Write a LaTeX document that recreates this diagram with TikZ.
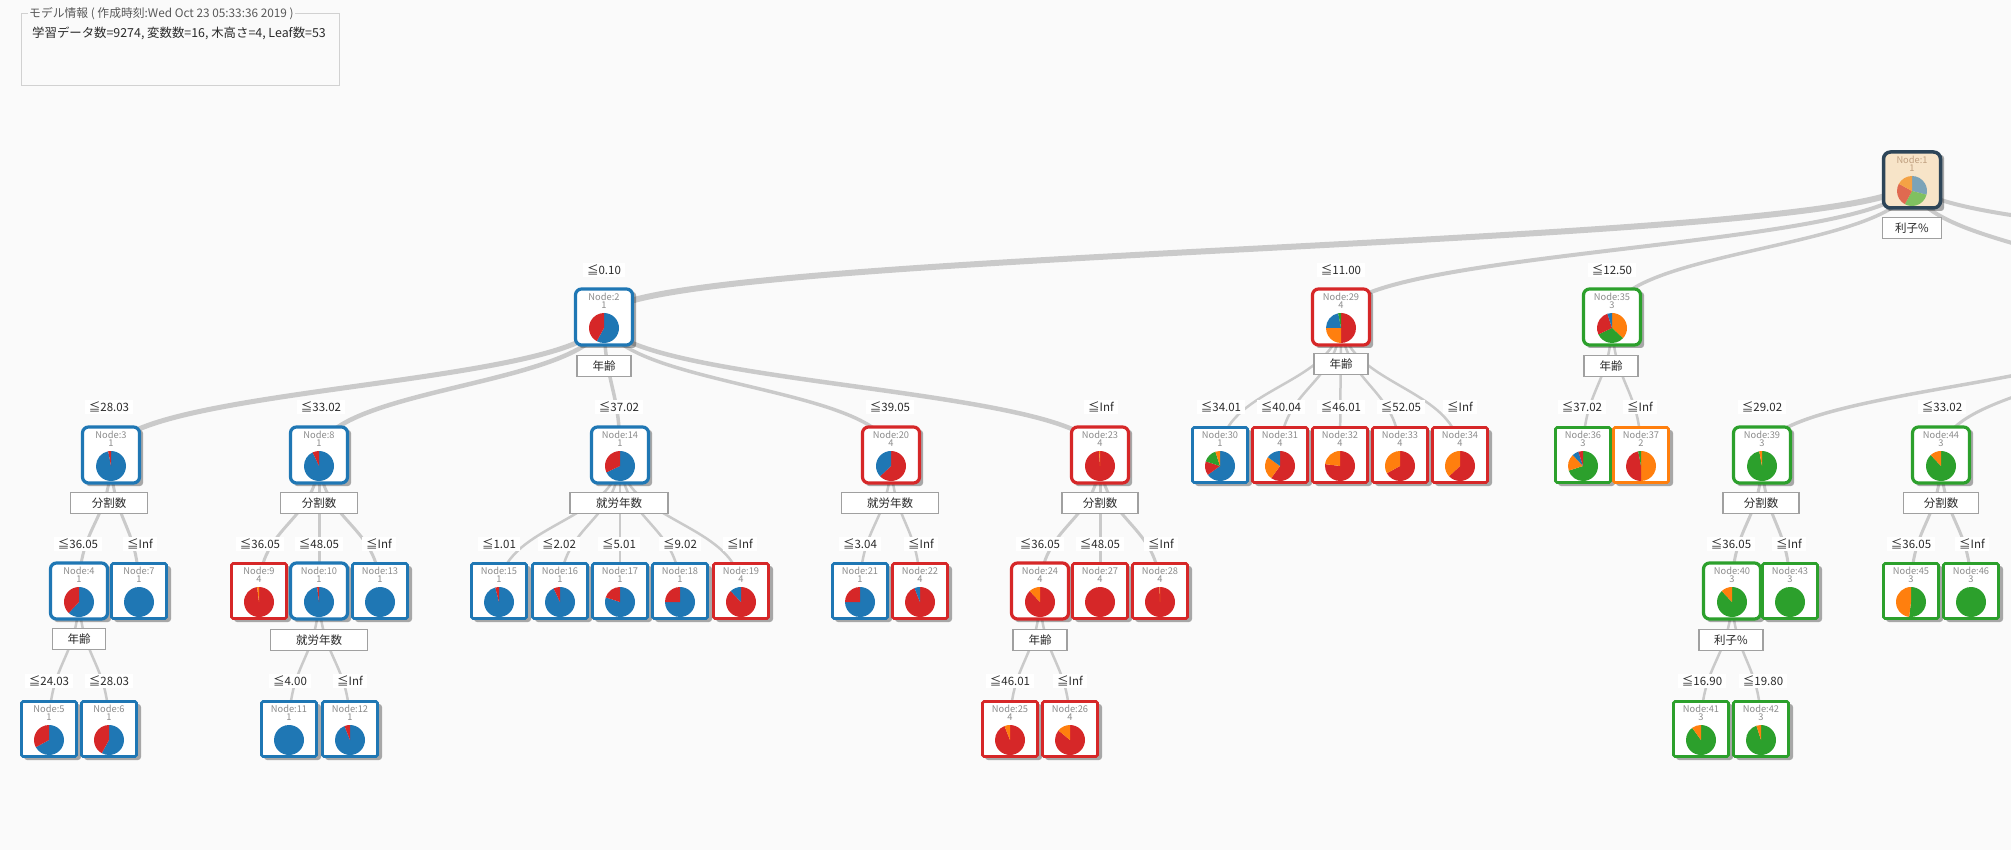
\documentclass[tikz,border=0pt]{standalone}
\usepackage{fontspec}
\setmainfont{Noto Sans CJK JP}
\usetikzlibrary{calc}
\definecolor{cb}{HTML}{1F77B4}
\definecolor{co}{HTML}{FF7F0E}
\definecolor{cg}{HTML}{2CA02C}
\definecolor{cr}{HTML}{D62728}
\definecolor{rb}{HTML}{7BA3B8}
\definecolor{ro}{HTML}{F4A245}
\definecolor{rg}{HTML}{80C060}
\definecolor{rr}{HTML}{E06A50}
\definecolor{bgc}{HTML}{FAFAFA}
\definecolor{edgec}{HTML}{CACACA}
\definecolor{txt}{HTML}{2A2A2A}
\definecolor{ntxt}{HTML}{8C8C8C}
\definecolor{splitc}{HTML}{A0A0A0}
\definecolor{rootfill}{HTML}{F7E4C8}
\definecolor{rootdraw}{HTML}{2D4558}
\definecolor{roottxt}{HTML}{C0A080}
\pgfdeclarelayer{bgl}
\pgfdeclarelayer{edgel}
\pgfsetlayers{bgl,edgel,main}
\tikzset{
  edge/.style={draw=edgec, line cap=round},
  thr/.style={fill=white, text=txt, font=\fontsize{11.5}{12}\selectfont, inner xsep=4, inner ysep=2},
  split/.style={draw=splitc, line width=1.5, fill=white, text=txt, font=\fontsize{11.5}{12}\selectfont, minimum height=21, inner sep=0},
  inbox/.style={fill=white, line width=3.2, rounded corners=6, minimum width=57, minimum height=56, inner sep=0},
  leafbox/.style={fill=white, line width=2.6, rounded corners=1.5, minimum width=55, minimum height=55, inner sep=0},
  rootbox/.style={fill=rootfill, draw=rootdraw, line width=3.5, rounded corners=7, minimum width=57, minimum height=56, inner sep=0},
  ntext/.style={text=ntxt, font=\fontsize{9.3}{9.3}\selectfont, inner sep=0},
  shadowbox/.style={fill=black, opacity=.33, rounded corners=3},
}
% name, x, y, node number, class, colour, box style, pie
\newcommand\tn[8]{%
  \fill[shadowbox] ({#2-25},{-#3-31}) rectangle ({#2+32},{-#3+25});
  \node[#7, draw=#6] (#1) at (#2,-#3) {};
  \node[ntext] at (#2,{-#3+20}) {Node:#4};
  \node[ntext] at (#2,{-#3+12}) {#5};
  \foreach \e/\c [remember=\e as \s (initially 0)] in {#8}
    \fill[\c] (#2,{-#3-11}) -- ++({90-3.6*\s}:15) arc[start angle={90-3.6*\s}, end angle={90-3.6*\e}, radius=15] -- cycle;
}
\newcommand\ed[3]{%
  \path ($(#1.center)!0.5!(#2.center)$) coordinate (mid);
  \draw[edge, line width=#3] (#1.center) .. controls (#1.center |- mid) and (#2.center |- mid) .. (#2.center);
}
\begin{document}
\begin{tikzpicture}[x=1pt,y=1pt]
\useasboundingbox (0,0) rectangle (2011,-850);
\begin{pgfonlayer}{bgl}
\fill[bgc] (0,0) rectangle (2011,-850);
\end{pgfonlayer}

% model information
\draw[draw=black!18, line width=1] (21,-14) rectangle (339,-86);
\node[anchor=west, fill=bgc, inner xsep=1, inner ysep=0, text=black!65, font=\fontsize{11.8}{12}\selectfont] (mtitle) at (28,-14) {モデル情報 ( 作成時刻:Wed Oct 23 05:33:36 2019 )};
\node[anchor=west, text=txt, font=\fontsize{12.4}{12}\selectfont, inner sep=0] (minfo) at (32,-33) {学習データ数=9274, 変数数=16, 木高さ=4, Leaf数=53};

% off-screen parents
\coordinate (n38) at (2150,-317);
\coordinate (nX) at (2800,-317);

% threshold labels
\node[thr] (t2) at (604,-270) {≦0.10};
\node[thr] (t29) at (1341,-270) {≦11.00};
\node[thr] (t35) at (1612,-270) {≦12.50};
\node[thr] (t3) at (109,-407) {≦28.03};
\node[thr] (t8) at (321,-407) {≦33.02};
\node[thr] (t14) at (619,-407) {≦37.02};
\node[thr] (t20) at (890,-407) {≦39.05};
\node[thr] (t23) at (1101,-407) {≦Inf};
\node[thr] (t30) at (1221,-407) {≦34.01};
\node[thr] (t31) at (1281,-407) {≦40.04};
\node[thr] (t32) at (1341,-407) {≦46.01};
\node[thr] (t33) at (1401,-407) {≦52.05};
\node[thr] (t34) at (1460,-407) {≦Inf};
\node[thr] (t36) at (1582,-407) {≦37.02};
\node[thr] (t37) at (1640,-407) {≦Inf};
\node[thr] (t39) at (1762,-407) {≦29.02};
\node[thr] (t44) at (1942,-407) {≦33.02};
\node[thr] (t4) at (78,-544) {≦36.05};
\node[thr] (t7) at (140,-544) {≦Inf};
\node[thr] (t9) at (260,-544) {≦36.05};
\node[thr] (t10) at (319,-544) {≦48.05};
\node[thr] (t13) at (379,-544) {≦Inf};
\node[thr] (t15) at (499,-544) {≦1.01};
\node[thr] (t16) at (559,-544) {≦2.02};
\node[thr] (t17) at (619,-544) {≦5.01};
\node[thr] (t18) at (680,-544) {≦9.02};
\node[thr] (t19) at (740,-544) {≦Inf};
\node[thr] (t21) at (860,-544) {≦3.04};
\node[thr] (t22) at (921,-544) {≦Inf};
\node[thr] (t24) at (1040,-544) {≦36.05};
\node[thr] (t27) at (1100,-544) {≦48.05};
\node[thr] (t28) at (1161,-544) {≦Inf};
\node[thr] (t40) at (1731,-544) {≦36.05};
\node[thr] (t43) at (1789,-544) {≦Inf};
\node[thr] (t45) at (1911,-544) {≦36.05};
\node[thr] (t46) at (1972,-544) {≦Inf};
\node[thr] (t5) at (49,-681) {≦24.03};
\node[thr] (t6) at (109,-681) {≦28.03};
\node[thr] (t11) at (290,-681) {≦4.00};
\node[thr] (t12) at (350,-681) {≦Inf};
\node[thr] (t25) at (1010,-681) {≦46.01};
\node[thr] (t26) at (1070,-681) {≦Inf};
\node[thr] (t41) at (1702,-681) {≦16.90};
\node[thr] (t42) at (1763,-681) {≦19.80};

% root
\fill[shadowbox] (1887,-211) rectangle (1944,-155);
\node[rootbox] (n1) at (1912,-180) {};
\node[ntext, text=roottxt] at (1912,-160) {Node:1};
\node[ntext, text=roottxt] at (1912,-168) {1};
\foreach \e/\c [remember=\e as \s (initially 0)] in {29/rb, 58/rg, 83/rr, 100/ro}
  \fill[\c] (1912,-191) -- ++({90-3.6*\s}:15) arc[start angle={90-3.6*\s}, end angle={90-3.6*\e}, radius=15] -- cycle;

% level 1
\tn{n2}{604}{317}{2}{1}{cb}{inbox}{58/cb, 100/cr}
\tn{n29}{1341}{317}{29}{4}{cr}{inbox}{50/cr, 75/co, 97/cb, 100/cg}
\tn{n35}{1612}{317}{35}{3}{cg}{inbox}{37/co, 68/cg, 95/cr, 100/cb}
% level 2
\tn{n3}{111}{455}{3}{1}{cb}{inbox}{97/cb, 100/cr}
\tn{n8}{319}{455}{8}{1}{cb}{inbox}{93/cb, 100/cr}
\tn{n14}{620}{455}{14}{1}{cb}{inbox}{68/cb, 100/cr}
\tn{n20}{891}{455}{20}{4}{cr}{inbox}{63/cr, 100/cb}
\tn{n23}{1100}{455}{23}{4}{cr}{inbox}{99/cr, 100/co}
\tn{n30}{1220}{455}{30}{1}{cb}{leafbox}{65/cb, 80/cr, 95/cg, 100/co}
\tn{n31}{1280}{455}{31}{4}{cr}{leafbox}{60/cr, 85/co, 100/cb}
\tn{n32}{1340}{455}{32}{4}{cr}{leafbox}{77/cr, 100/co}
\tn{n33}{1400}{455}{33}{4}{cr}{leafbox}{67/cr, 100/co}
\tn{n34}{1460}{455}{34}{4}{cr}{leafbox}{63/cr, 100/co}
\tn{n36}{1583}{455}{36}{3}{cg}{leafbox}{70/cg, 88/co, 95/cb, 100/cr}
\tn{n37}{1641}{455}{37}{2}{co}{leafbox}{50/co, 97/cr, 100/cg}
\tn{n39}{1762}{455}{39}{3}{cg}{inbox}{97/cg, 100/co}
\tn{n44}{1941}{455}{44}{3}{cg}{inbox}{88/cg, 100/co}
% level 3
\tn{n4}{79}{591}{4}{1}{cb}{inbox}{62/cb, 100/cr}
\tn{n7}{139}{591}{7}{1}{cb}{leafbox}{100/cb}
\tn{n9}{259}{591}{9}{4}{cr}{leafbox}{98/cr, 100/co}
\tn{n10}{319}{591}{10}{1}{cb}{inbox}{98/cb, 100/cr}
\tn{n13}{380}{591}{13}{1}{cb}{leafbox}{100/cb}
\tn{n15}{499}{591}{15}{1}{cb}{leafbox}{96/cb, 100/cr}
\tn{n16}{560}{591}{16}{1}{cb}{leafbox}{93/cb, 100/cr}
\tn{n17}{620}{591}{17}{1}{cb}{leafbox}{80/cb, 100/cr}
\tn{n18}{680}{591}{18}{1}{cb}{leafbox}{75/cb, 100/cr}
\tn{n19}{741}{591}{19}{4}{cr}{leafbox}{88/cr, 100/cb}
\tn{n21}{860}{591}{21}{1}{cb}{leafbox}{75/cb, 100/cr}
\tn{n22}{920}{591}{22}{4}{cr}{leafbox}{94/cr, 100/cb}
\tn{n24}{1040}{591}{24}{4}{cr}{inbox}{88/cr, 100/co}
\tn{n27}{1100}{591}{27}{4}{cr}{leafbox}{100/cr}
\tn{n28}{1160}{591}{28}{4}{cr}{leafbox}{99.5/cr, 100/co}
\tn{n40}{1732}{591}{40}{3}{cg}{inbox}{88/cg, 100/co}
\tn{n43}{1790}{591}{43}{3}{cg}{leafbox}{100/cg}
\tn{n45}{1911}{591}{45}{3}{cg}{leafbox}{52/cg, 100/co}
\tn{n46}{1971}{591}{46}{3}{cg}{leafbox}{100/cg}
% level 4
\tn{n5}{49}{729}{5}{1}{cb}{leafbox}{67/cb, 100/cr}
\tn{n6}{109}{729}{6}{1}{cb}{leafbox}{58/cb, 100/cr}
\tn{n11}{289}{729}{11}{1}{cb}{leafbox}{100/cb}
\tn{n12}{350}{729}{12}{1}{cb}{leafbox}{94/cb, 100/cr}
\tn{n25}{1010}{729}{25}{4}{cr}{leafbox}{94/cr, 100/co}
\tn{n26}{1070}{729}{26}{4}{cr}{leafbox}{86/cr, 100/co}
\tn{n41}{1701}{729}{41}{3}{cg}{leafbox}{90/cg, 100/co}
\tn{n42}{1761}{729}{42}{3}{cg}{leafbox}{95/cg, 100/co}

% split labels
\node[split, minimum width=59] (s1) at (1912,-228) {利子\%};
\node[split, minimum width=54] (s2) at (604,-366) {年齢};
\node[split, minimum width=54] (s29) at (1341,-364) {年齢};
\node[split, minimum width=54] (s35) at (1611,-366) {年齢};
\node[split, minimum width=77] (s3) at (109,-503) {分割数};
\node[split, minimum width=77] (s8) at (319,-503) {分割数};
\node[split, minimum width=98] (s14) at (619,-503) {就労年数};
\node[split, minimum width=97] (s20) at (890,-503) {就労年数};
\node[split, minimum width=76] (s23) at (1100,-503) {分割数};
\node[split, minimum width=76] (s39) at (1761,-503) {分割数};
\node[split, minimum width=75] (s44) at (1941,-503) {分割数};
\node[split, minimum width=53] (s4) at (79,-639) {年齢};
\node[split, minimum width=97] (s10) at (319,-640) {就労年数};
\node[split, minimum width=54] (s24) at (1040,-640) {年齢};
\node[split, minimum width=64] (s40) at (1731,-640) {利子\%};

% edges
\begin{pgfonlayer}{edgel}
\ed{n1}{n2}{6}
\ed{n1}{n29}{4}
\ed{n1}{n35}{3.5}
\ed{n1}{n38}{4}
\ed{n1}{nX}{4}
\ed{n38}{n39}{3.5}
\ed{n38}{n44}{3}
\ed{n2}{n3}{5}
\ed{n2}{n8}{4.5}
\ed{n2}{n14}{3.5}
\ed{n2}{n20}{3.5}
\ed{n2}{n23}{4.5}
\ed{n29}{n30}{2.5}
\ed{n29}{n31}{2.5}
\ed{n29}{n32}{2.5}
\ed{n29}{n33}{2.5}
\ed{n29}{n34}{2.5}
\ed{n35}{n36}{2.5}
\ed{n35}{n37}{2.5}
\ed{n3}{n4}{3}
\ed{n3}{n7}{3}
\ed{n4}{n5}{2.5}
\ed{n4}{n6}{2.5}
\ed{n8}{n9}{3}
\ed{n8}{n10}{3}
\ed{n8}{n13}{3}
\ed{n10}{n11}{2.5}
\ed{n10}{n12}{2.5}
\ed{n14}{n15}{2.5}
\ed{n14}{n16}{2.5}
\ed{n14}{n17}{2.5}
\ed{n14}{n18}{2.5}
\ed{n14}{n19}{2.5}
\ed{n20}{n21}{2.5}
\ed{n20}{n22}{2.5}
\ed{n23}{n24}{3}
\ed{n23}{n27}{3}
\ed{n23}{n28}{3}
\ed{n24}{n25}{2.5}
\ed{n24}{n26}{2.5}
\ed{n39}{n40}{3}
\ed{n39}{n43}{3}
\ed{n40}{n41}{2.5}
\ed{n40}{n42}{2.5}
\ed{n44}{n45}{3}
\ed{n44}{n46}{3}
\end{pgfonlayer}
\end{tikzpicture}
\end{document}
